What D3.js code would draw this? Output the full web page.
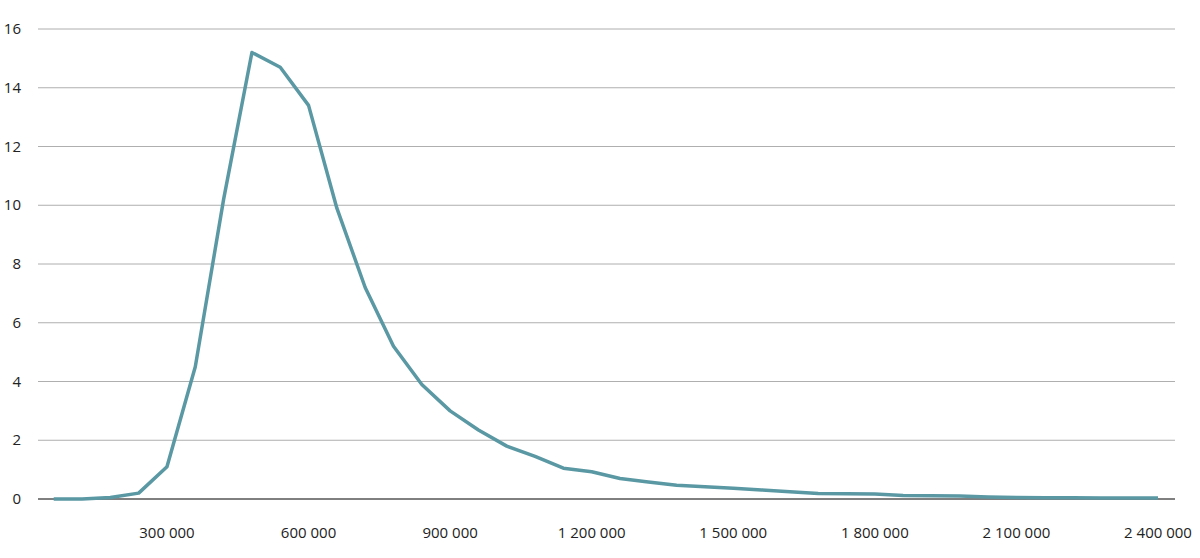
<!DOCTYPE html>
<html><head><meta charset="utf-8">
<script src="https://cdn.jsdelivr.net/npm/d3@7"></script>
<style>body{margin:0;background:#fff}</style>
</head><body>
<div id="chart"></div>
<script>
var incomes = d3.range(1, 41).map(function (i) { return i * 60000; });
var shares = [0, 0, 0.05, 0.2, 1.1, 4.5, 10.2, 15.2, 14.7, 13.4,
  9.9, 7.2, 5.2, 3.9, 3.0, 2.35, 1.8, 1.45, 1.05, 0.93,
  0.7, 0.58, 0.47, 0.42, 0.37, 0.31, 0.25, 0.19, 0.18, 0.17,
  0.12, 0.11, 0.1, 0.07, 0.05, 0.04, 0.04, 0.03, 0.03, 0.03];
var xTicks = [300000, 600000, 900000, 1200000, 1500000, 1800000, 2100000, 2400000];
var yTicks = [0, 2, 4, 6, 8, 10, 12, 14, 16];

var width = 1200, height = 558;
var svg = d3.select("#chart").append("svg")
  .attr("width", width).attr("height", height);

var x = d3.scaleLinear().domain([0, 2400000]).range([25.4, 1158]);
var y = d3.scaleLinear().domain([0, 16]).range([499, 29]);
var fmt = function (d) { return d3.format(",")(d).replace(/,/g, " "); };

svg.append("g").selectAll("line").data(yTicks).enter().append("line")
  .attr("x1", 38).attr("x2", 1175)
  .attr("y1", function (d) { return y(d); }).attr("y2", function (d) { return y(d); })
  .attr("stroke", function (d) { return d === 0 ? "#000" : "#9a9a9a"; })
  .attr("stroke-width", function (d) { return d === 0 ? 1 : 0.8; });

svg.append("g").selectAll("text").data(yTicks).enter().append("text")
  .attr("x", 21).attr("y", function (d) { return y(d) + 5; })
  .attr("text-anchor", "end")
  .attr("font-family", "Open Sans, sans-serif").attr("font-size", "15px")
  .attr("fill", "#222").text(function (d) { return d; });

svg.append("g").selectAll("text").data(xTicks).enter().append("text")
  .attr("x", function (d) { return x(d); }).attr("y", 538)
  .attr("text-anchor", "middle")
  .attr("font-family", "Open Sans, sans-serif").attr("font-size", "15px")
  .attr("fill", "#222").text(fmt);

var line = d3.line()
  .x(function (d, i) { return x(incomes[i]); })
  .y(function (d) { return y(d); });

svg.append("path").datum(shares)
  .attr("d", line)
  .attr("fill", "none")
  .attr("stroke", "#5a98a4")
  .attr("stroke-width", 3.5)
  .attr("stroke-linejoin", "round");
</script>
</body></html>
